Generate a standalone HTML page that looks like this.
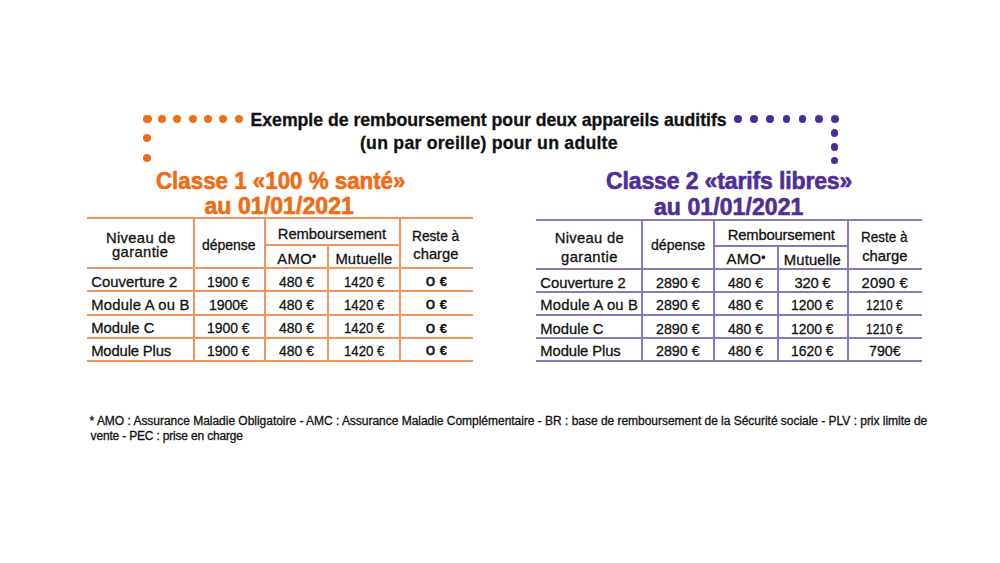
<!DOCTYPE html>
<html lang="fr"><head><meta charset="utf-8"><title>Remboursement appareils auditifs</title>
<style>
html,body{margin:0;padding:0;background:#fff;width:1000px;height:563px;overflow:hidden}
body{position:relative;font-family:"Liberation Sans",sans-serif}
.l{position:absolute}
.d{position:absolute;border-radius:50%}
.t{position:absolute;line-height:0;white-space:nowrap;font-family:"Liberation Sans",sans-serif;-webkit-text-stroke:0.3px currentColor}
</style></head><body>
<div class="l" style="left:87.00px;top:217.00px;width:386.00px;height:2.0px;background:#f1955a"></div>
<div class="l" style="left:87.00px;top:266.50px;width:386.00px;height:2.0px;background:#f1955a"></div>
<div class="l" style="left:87.00px;top:290.00px;width:386.00px;height:2.0px;background:#f1955a"></div>
<div class="l" style="left:87.00px;top:313.60px;width:386.00px;height:2.0px;background:#f1955a"></div>
<div class="l" style="left:87.00px;top:336.90px;width:386.00px;height:2.0px;background:#f1955a"></div>
<div class="l" style="left:87.00px;top:360.00px;width:386.00px;height:2.0px;background:#f1955a"></div>
<div class="l" style="left:264.70px;top:243.50px;width:134.80px;height:2.0px;background:#f1955a"></div>
<div class="l" style="left:192.70px;top:217.00px;width:2.0px;height:145.00px;background:#f1955a"></div>
<div class="l" style="left:263.70px;top:217.00px;width:2.0px;height:145.00px;background:#f1955a"></div>
<div class="l" style="left:398.50px;top:217.00px;width:2.0px;height:145.00px;background:#f1955a"></div>
<div class="l" style="left:327.40px;top:244.50px;width:2.0px;height:117.50px;background:#f1955a"></div>
<div class="l" style="left:536.00px;top:218.50px;width:385.60px;height:2.0px;background:#8878b8"></div>
<div class="l" style="left:536.00px;top:268.00px;width:385.60px;height:2.0px;background:#8878b8"></div>
<div class="l" style="left:536.00px;top:291.00px;width:385.60px;height:2.0px;background:#8878b8"></div>
<div class="l" style="left:536.00px;top:314.20px;width:385.60px;height:2.0px;background:#8878b8"></div>
<div class="l" style="left:536.00px;top:337.10px;width:385.60px;height:2.0px;background:#8878b8"></div>
<div class="l" style="left:536.00px;top:359.90px;width:385.60px;height:2.0px;background:#8878b8"></div>
<div class="l" style="left:713.60px;top:244.80px;width:134.80px;height:2.0px;background:#8878b8"></div>
<div class="l" style="left:641.30px;top:218.50px;width:2.0px;height:143.40px;background:#8878b8"></div>
<div class="l" style="left:712.60px;top:218.50px;width:2.0px;height:143.40px;background:#8878b8"></div>
<div class="l" style="left:847.40px;top:218.50px;width:2.0px;height:143.40px;background:#8878b8"></div>
<div class="l" style="left:776.50px;top:245.80px;width:2.0px;height:116.10px;background:#8878b8"></div>
<div class="d" style="left:143.20px;top:114.70px;width:8.6px;height:8.6px;background:#ef6f17"></div>
<div class="d" style="left:158.00px;top:115.00px;width:8px;height:8px;background:#ef6f17"></div>
<div class="d" style="left:173.20px;top:115.00px;width:8px;height:8px;background:#ef6f17"></div>
<div class="d" style="left:188.50px;top:115.00px;width:8px;height:8px;background:#ef6f17"></div>
<div class="d" style="left:203.90px;top:115.00px;width:8px;height:8px;background:#ef6f17"></div>
<div class="d" style="left:219.30px;top:115.00px;width:8px;height:8px;background:#ef6f17"></div>
<div class="d" style="left:234.70px;top:115.00px;width:8px;height:8px;background:#ef6f17"></div>
<div class="d" style="left:143.00px;top:134.30px;width:8px;height:8px;background:#ef6f17"></div>
<div class="d" style="left:143.00px;top:153.50px;width:8px;height:8px;background:#ef6f17"></div>
<div class="d" style="left:733.90px;top:115.10px;width:7.8px;height:7.8px;background:#4b2d97"></div>
<div class="d" style="left:749.90px;top:115.10px;width:7.8px;height:7.8px;background:#4b2d97"></div>
<div class="d" style="left:766.10px;top:115.10px;width:7.8px;height:7.8px;background:#4b2d97"></div>
<div class="d" style="left:782.50px;top:115.10px;width:7.8px;height:7.8px;background:#4b2d97"></div>
<div class="d" style="left:798.70px;top:115.10px;width:7.8px;height:7.8px;background:#4b2d97"></div>
<div class="d" style="left:815.10px;top:115.10px;width:7.8px;height:7.8px;background:#4b2d97"></div>
<div class="d" style="left:830.60px;top:114.80px;width:8.4px;height:8.4px;background:#4b2d97"></div>
<div class="d" style="left:830.50px;top:129.10px;width:7.8px;height:7.8px;background:#4b2d97"></div>
<div class="d" style="left:830.50px;top:143.10px;width:7.8px;height:7.8px;background:#4b2d97"></div>
<div class="d" style="left:830.50px;top:156.70px;width:7.8px;height:7.8px;background:#4b2d97"></div>
<div class="t" style="left:250.50px;top:119.50px;font-size:17.7px;font-weight:700;color:#111111;letter-spacing:-0.029px;">Exemple de remboursement pour deux appareils auditifs</div>
<div class="t" style="left:360.00px;top:142.50px;font-size:17.7px;font-weight:700;color:#111111;letter-spacing:0.233px;">(un par oreille) pour un adulte</div>
<div class="t" style="left:155.53px;top:181.00px;font-size:23px;font-weight:700;color:#ef6c14;-webkit-text-stroke:0.6px currentColor;transform:scaleX(0.9706);transform-origin:0 0;">Classe 1 «100 % santé»</div>
<div class="t" style="left:204.50px;top:206.00px;font-size:23px;font-weight:700;color:#ef6c14;letter-spacing:0.083px;-webkit-text-stroke:0.6px currentColor;">au 01/01/2021</div>
<div class="t" style="left:606.00px;top:181.00px;font-size:23px;font-weight:700;color:#4f2e96;letter-spacing:-0.130px;-webkit-text-stroke:0.6px currentColor;">Classe 2 «tarifs libres»</div>
<div class="t" style="left:654.00px;top:207.00px;font-size:23px;font-weight:700;color:#4f2e96;letter-spacing:0.083px;-webkit-text-stroke:0.6px currentColor;">au 01/01/2021</div>
<div class="t" style="left:106.00px;top:237.70px;font-size:14.8px;font-weight:400;color:#111111;letter-spacing:0.312px;">Niveau de</div>
<div class="t" style="left:112.00px;top:251.90px;font-size:14.8px;font-weight:400;color:#111111;letter-spacing:0.357px;">garantie</div>
<div class="t" style="left:201.76px;top:244.50px;font-size:14.8px;font-weight:400;color:#111111;transform:scaleX(0.9436);transform-origin:0 0;">dépense</div>
<div class="t" style="left:277.80px;top:233.70px;font-size:14.8px;font-weight:400;color:#111111;letter-spacing:-0.092px;">Remboursement</div>
<div class="t" style="left:277.20px;top:258.50px;font-size:14.8px;font-weight:400;color:#111111;letter-spacing:0.400px;">AMO<span style="position:relative;top:-2.5px;font-size:12px">•</span></div>
<div class="t" style="left:335.40px;top:258.50px;font-size:14.8px;font-weight:400;color:#111111;letter-spacing:0.143px;">Mutuelle</div>
<div class="t" style="left:412.17px;top:235.80px;font-size:14.8px;font-weight:400;color:#111111;transform:scaleX(0.9260);transform-origin:0 0;">Reste à</div>
<div class="t" style="left:413.25px;top:254.20px;font-size:14.8px;font-weight:400;color:#111111;">charge</div>
<div class="t" style="left:554.70px;top:237.50px;font-size:14.8px;font-weight:400;color:#111111;letter-spacing:0.312px;">Niveau de</div>
<div class="t" style="left:561.00px;top:256.50px;font-size:14.8px;font-weight:400;color:#111111;letter-spacing:0.429px;">garantie</div>
<div class="t" style="left:650.55px;top:244.90px;font-size:14.8px;font-weight:400;color:#111111;transform:scaleX(0.9545);transform-origin:0 0;">dépense</div>
<div class="t" style="left:727.80px;top:235.30px;font-size:14.8px;font-weight:400;color:#111111;letter-spacing:-0.200px;">Remboursement</div>
<div class="t" style="left:726.40px;top:259.30px;font-size:14.8px;font-weight:400;color:#111111;letter-spacing:0.400px;">AMO<span style="position:relative;top:-2.5px;font-size:12px">•</span></div>
<div class="t" style="left:783.80px;top:259.50px;font-size:14.8px;font-weight:400;color:#111111;letter-spacing:0.143px;">Mutuelle</div>
<div class="t" style="left:861.49px;top:237.20px;font-size:14.8px;font-weight:400;color:#111111;transform:scaleX(0.9120);transform-origin:0 0;">Reste à</div>
<div class="t" style="left:862.20px;top:255.80px;font-size:14.8px;font-weight:400;color:#111111;">charge</div>
<div class="t" style="left:91.20px;top:281.80px;font-size:14.8px;font-weight:400;color:#111111;letter-spacing:0.045px;">Couverture 2</div>
<div class="t" style="left:207.26px;top:281.80px;font-size:14.8px;font-weight:400;color:#111111;transform:scaleX(0.9409);transform-origin:0 0;">1900 €</div>
<div class="t" style="left:278.90px;top:281.80px;font-size:14.8px;font-weight:400;color:#111111;transform:scaleX(0.9459);transform-origin:0 0;">480 €</div>
<div class="t" style="left:343.51px;top:281.80px;font-size:14.8px;font-weight:400;color:#111111;transform:scaleX(0.8909);transform-origin:0 0;">1420 €</div>
<div class="t" style="left:425.80px;top:281.00px;font-size:13px;font-weight:700;color:#111111;letter-spacing:0.450px;"><span style="font-size:17px;font-weight:400;-webkit-text-stroke:0.5px currentColor">o</span> €</div>
<div class="t" style="left:91.20px;top:305.20px;font-size:14.8px;font-weight:400;color:#111111;letter-spacing:0.233px;">Module A ou B</div>
<div class="t" style="left:209.06px;top:305.20px;font-size:14.8px;font-weight:400;color:#111111;transform:scaleX(0.9450);transform-origin:0 0;">1900€</div>
<div class="t" style="left:278.90px;top:305.20px;font-size:14.8px;font-weight:400;color:#111111;transform:scaleX(0.9459);transform-origin:0 0;">480 €</div>
<div class="t" style="left:343.51px;top:305.20px;font-size:14.8px;font-weight:400;color:#111111;transform:scaleX(0.8909);transform-origin:0 0;">1420 €</div>
<div class="t" style="left:425.80px;top:304.40px;font-size:13px;font-weight:700;color:#111111;letter-spacing:0.450px;"><span style="font-size:17px;font-weight:400;-webkit-text-stroke:0.5px currentColor">o</span> €</div>
<div class="t" style="left:91.20px;top:328.30px;font-size:14.8px;font-weight:400;color:#111111;letter-spacing:-0.029px;">Module C</div>
<div class="t" style="left:207.26px;top:328.30px;font-size:14.8px;font-weight:400;color:#111111;transform:scaleX(0.9409);transform-origin:0 0;">1900 €</div>
<div class="t" style="left:278.90px;top:328.30px;font-size:14.8px;font-weight:400;color:#111111;transform:scaleX(0.9459);transform-origin:0 0;">480 €</div>
<div class="t" style="left:343.51px;top:328.30px;font-size:14.8px;font-weight:400;color:#111111;transform:scaleX(0.8909);transform-origin:0 0;">1420 €</div>
<div class="t" style="left:425.80px;top:327.50px;font-size:13px;font-weight:700;color:#111111;letter-spacing:0.450px;"><span style="font-size:17px;font-weight:400;-webkit-text-stroke:0.5px currentColor">o</span> €</div>
<div class="t" style="left:91.20px;top:351.10px;font-size:14.8px;font-weight:400;color:#111111;letter-spacing:-0.140px;">Module Plus</div>
<div class="t" style="left:207.26px;top:351.10px;font-size:14.8px;font-weight:400;color:#111111;transform:scaleX(0.9409);transform-origin:0 0;">1900 €</div>
<div class="t" style="left:278.90px;top:351.10px;font-size:14.8px;font-weight:400;color:#111111;transform:scaleX(0.9459);transform-origin:0 0;">480 €</div>
<div class="t" style="left:343.51px;top:351.10px;font-size:14.8px;font-weight:400;color:#111111;transform:scaleX(0.8909);transform-origin:0 0;">1420 €</div>
<div class="t" style="left:425.80px;top:350.30px;font-size:13px;font-weight:700;color:#111111;letter-spacing:0.450px;"><span style="font-size:17px;font-weight:400;-webkit-text-stroke:0.5px currentColor">o</span> €</div>
<div class="t" style="left:540.30px;top:282.70px;font-size:14.8px;font-weight:400;color:#111111;letter-spacing:-0.009px;">Couverture 2</div>
<div class="t" style="left:655.84px;top:282.70px;font-size:14.8px;font-weight:400;color:#111111;transform:scaleX(0.9636);transform-origin:0 0;">2890 €</div>
<div class="t" style="left:727.50px;top:282.70px;font-size:14.8px;font-weight:400;color:#111111;transform:scaleX(0.9459);transform-origin:0 0;">480 €</div>
<div class="t" style="left:794.55px;top:282.70px;font-size:14.8px;font-weight:400;color:#111111;letter-spacing:-0.275px;">320 €</div>
<div class="t" style="left:861.60px;top:282.70px;font-size:14.8px;font-weight:400;color:#111111;letter-spacing:0.160px;">2090 €</div>
<div class="t" style="left:540.30px;top:305.40px;font-size:14.8px;font-weight:400;color:#111111;letter-spacing:0.183px;">Module A ou B</div>
<div class="t" style="left:655.84px;top:305.40px;font-size:14.8px;font-weight:400;color:#111111;transform:scaleX(0.9636);transform-origin:0 0;">2890 €</div>
<div class="t" style="left:727.50px;top:305.40px;font-size:14.8px;font-weight:400;color:#111111;transform:scaleX(0.9459);transform-origin:0 0;">480 €</div>
<div class="t" style="left:791.41px;top:305.40px;font-size:14.8px;font-weight:400;color:#111111;transform:scaleX(0.9386);transform-origin:0 0;">1200 €</div>
<div class="t" style="left:866.34px;top:305.40px;font-size:14.8px;font-weight:400;color:#111111;transform:scaleX(0.8114);transform-origin:0 0;">1210 €</div>
<div class="t" style="left:540.30px;top:328.50px;font-size:14.8px;font-weight:400;color:#111111;letter-spacing:-0.014px;">Module C</div>
<div class="t" style="left:655.84px;top:328.50px;font-size:14.8px;font-weight:400;color:#111111;transform:scaleX(0.9636);transform-origin:0 0;">2890 €</div>
<div class="t" style="left:727.50px;top:328.50px;font-size:14.8px;font-weight:400;color:#111111;transform:scaleX(0.9459);transform-origin:0 0;">480 €</div>
<div class="t" style="left:791.41px;top:328.50px;font-size:14.8px;font-weight:400;color:#111111;transform:scaleX(0.9386);transform-origin:0 0;">1200 €</div>
<div class="t" style="left:866.34px;top:328.50px;font-size:14.8px;font-weight:400;color:#111111;transform:scaleX(0.8114);transform-origin:0 0;">1210 €</div>
<div class="t" style="left:540.30px;top:350.70px;font-size:14.8px;font-weight:400;color:#111111;letter-spacing:-0.100px;">Module Plus</div>
<div class="t" style="left:655.84px;top:350.70px;font-size:14.8px;font-weight:400;color:#111111;transform:scaleX(0.9636);transform-origin:0 0;">2890 €</div>
<div class="t" style="left:727.50px;top:350.70px;font-size:14.8px;font-weight:400;color:#111111;transform:scaleX(0.9459);transform-origin:0 0;">480 €</div>
<div class="t" style="left:791.41px;top:350.70px;font-size:14.8px;font-weight:400;color:#111111;transform:scaleX(0.9386);transform-origin:0 0;">1620 €</div>
<div class="t" style="left:868.64px;top:350.70px;font-size:14.8px;font-weight:400;color:#111111;transform:scaleX(0.9625);transform-origin:0 0;">790€</div>
<div class="t" style="left:89.60px;top:421.30px;font-size:12px;font-weight:400;color:#111111;letter-spacing:-0.025px;">* AMO : Assurance Maladie Obligatoire - AMC : Assurance Maladie Complémentaire - BR : base de remboursement de la Sécurité sociale - PLV : prix limite de</div>
<div class="t" style="left:90.60px;top:435.70px;font-size:12px;font-weight:400;color:#111111;letter-spacing:-0.182px;">vente - PEC : prise en charge</div>
</body></html>
